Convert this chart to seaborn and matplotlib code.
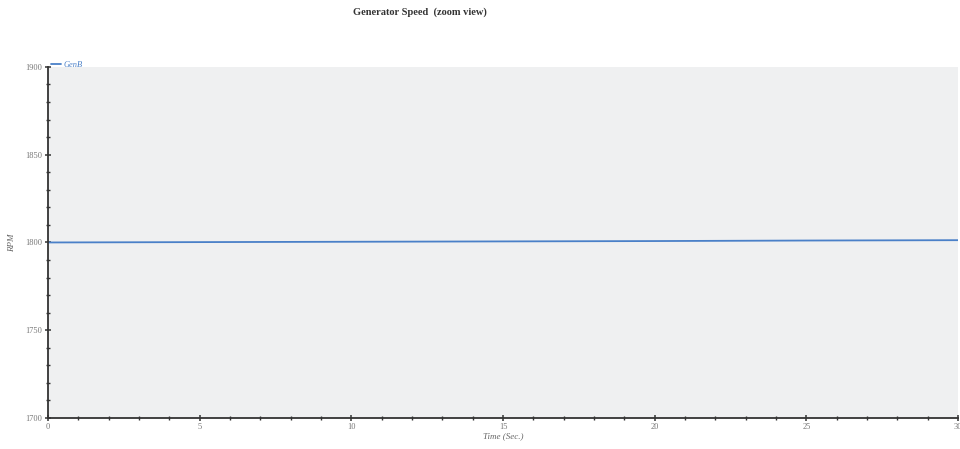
import matplotlib
matplotlib.use("Agg")
import matplotlib.pyplot as plt
import seaborn as sns
import pandas as pd
from matplotlib.ticker import MultipleLocator

time_sec = [0, 5, 10, 15, 20, 25, 30]
gen_rpm = [1800.0, 1800.2, 1800.4, 1800.6, 1800.8, 1801.1, 1801.3]
x_ticks = [0, 5, 10, 15, 20, 25, 30]
y_ticks = [1700, 1750, 1800, 1850, 1900]

df = pd.DataFrame({"Time": time_sec, "RPM": gen_rpm})

sns.set_theme(style="white")
plt.rcParams["font.family"] = ["Liberation Serif", "DejaVu Serif"]

fig = plt.figure(figsize=(9.6, 4.49), dpi=100)
ax = fig.add_axes([0.05, 0.069, 0.948, 0.782])
ax.set_facecolor("#eff0f1")

sns.lineplot(data=df, x="Time", y="RPM", ax=ax, color="#4a80c8", linewidth=1.3, label="GenB")

ax.set_xlim(0, 30)
ax.set_ylim(1700, 1900)
ax.set_xticks(x_ticks)
ax.set_yticks(y_ticks)
ax.xaxis.set_minor_locator(MultipleLocator(1))
ax.yaxis.set_minor_locator(MultipleLocator(10))
ax.tick_params(axis="both", which="both", bottom=True, left=True, top=False, right=False)
ax.tick_params(axis="both", which="major", direction="inout", length=5, width=1.1,
               color="#333333", labelsize=6, labelcolor="#777777")
ax.tick_params(axis="both", which="minor", direction="inout", length=3, width=1.0, color="#333333")
ax.tick_params(axis="x", pad=1)
ax.tick_params(axis="y", pad=2)

for s in ["top", "right"]:
    ax.spines[s].set_visible(False)
for s in ["left", "bottom"]:
    ax.spines[s].set_color("#333333")
    ax.spines[s].set_linewidth(1.3)

ax.set_xlabel("Time (Sec.)", fontsize=6.5, style="italic", color="#666666", labelpad=1)
ax.set_ylabel("RPM", fontsize=6.5, style="italic", color="#666666", labelpad=6)

leg = ax.legend(loc="lower left", bbox_to_anchor=(0.0, 0.985), frameon=False,
                handlelength=1.2, handletextpad=0.3, borderaxespad=0,
                prop={"style": "italic", "size": 6})
for t in leg.get_texts():
    t.set_color("#4a80c8")

fig.text(0.4375, 0.972, "Generator Speed  (zoom view)", ha="center", va="center",
         fontsize=7.5, fontweight="bold", color="#333333")

fig.savefig("out.png", dpi=100, facecolor="white")
